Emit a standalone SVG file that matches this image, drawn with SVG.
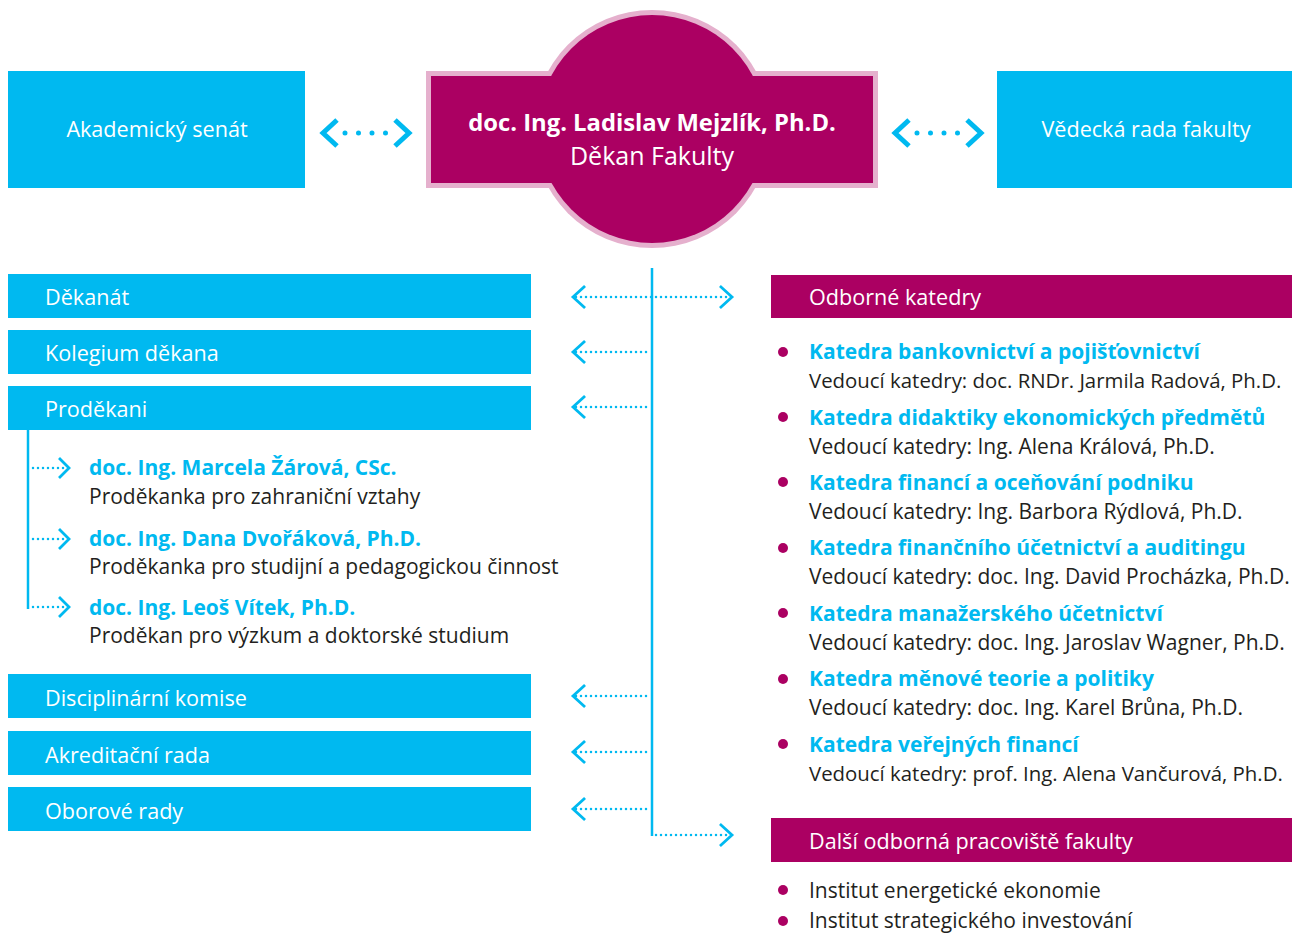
<svg xmlns="http://www.w3.org/2000/svg" width="1292" height="933" viewBox="0 0 1292 933">
<style>
.blue{fill:#00b9f0}
.mag{fill:#ab0062}
.t{font-family:"Open Sans","Noto Sans",sans-serif;font-size:21px}
.lb{font-size:21.6px}
.sm{font-size:20.4px}
.w{fill:#ffffff}
.b{font-weight:bold}
.bl{fill:#00b9f0}
.dk{fill:#231f20}
.dots{stroke:#00b9f0;stroke-width:2.5;stroke-linecap:round;stroke-dasharray:0 5;fill:none}
.bigdots{stroke:#00b9f0;stroke-width:5;stroke-linecap:round;stroke-dasharray:0 13.5;fill:none}
.chev{stroke:#00b9f0;stroke-width:2.8;fill:none;stroke-linecap:square}
.bigchev{stroke:#00b9f0;stroke-width:5;fill:none}
.line{stroke:#00b9f0;stroke-width:2.5;fill:none}
</style>
<rect width="1292" height="933" fill="#ffffff"/>

<g id="akademicky-senat">
<rect class="blue" x="8" y="71" width="297" height="117"/>
<text class="t lb w" x="157" y="137" text-anchor="middle">Akademický senát</text>
</g>
<g id="vedecka-rada">
<rect class="blue" x="997" y="71" width="295" height="117"/>
<text class="t lb w" x="1146" y="137" text-anchor="middle">Vědecká rada fakulty</text>
</g>
<g id="dekan">
<circle cx="652" cy="129" r="119" fill="#e5b0cd"/>
<rect x="426" y="71" width="452" height="117" fill="#e5b0cd"/>
<circle cx="652" cy="129" r="114" class="mag"/>
<rect class="mag" x="431" y="76" width="442" height="107"/>
<text class="t w b" x="652" y="131" text-anchor="middle" style="font-size:23.8px">doc. Ing. Ladislav Mejzlík, Ph.D.</text>
<text class="t w" x="652" y="165" text-anchor="middle" style="font-size:25px">Děkan Fakulty</text>
</g>

<g id="dekanat"><rect class="blue" x="8" y="274" width="523" height="44"/><text class="t lb w" x="45" y="305">Děkanát</text></g>
<g id="kolegium"><rect class="blue" x="8" y="330" width="523" height="44"/><text class="t lb w" x="45" y="361">Kolegium děkana</text></g>
<g id="prodekani"><rect class="blue" x="8" y="386" width="523" height="44"/><text class="t lb w" x="45" y="417">Proděkani</text></g>
<g id="zarova"><text class="t b bl" x="89" y="475">doc. Ing. Marcela Žárová, CSc.</text><text class="t dk" x="89" y="504">Proděkanka pro zahraniční vztahy</text></g>
<g id="dvorakova"><text class="t b bl" x="89" y="546">doc. Ing. Dana Dvořáková, Ph.D.</text><text class="t dk" x="89" y="574">Proděkanka pro studijní a pedagogickou činnost</text></g>
<g id="vitek"><text class="t b bl" x="89" y="615">doc. Ing. Leoš Vítek, Ph.D.</text><text class="t dk" x="89" y="643">Proděkan pro výzkum a doktorské studium</text></g>
<g id="disciplinarni"><rect class="blue" x="8" y="674" width="523" height="44"/><text class="t lb w" x="45" y="706">Disciplinární komise</text></g>
<g id="akreditacni"><rect class="blue" x="8" y="731" width="523" height="44"/><text class="t lb w" x="45" y="763">Akreditační rada</text></g>
<g id="oborove"><rect class="blue" x="8" y="787" width="523" height="44"/><text class="t lb w" x="45" y="819">Oborové rady</text></g>

<g id="odborne-katedry">
<rect class="mag" x="771" y="275" width="521" height="43"/>
<text class="t lb w" x="809" y="305">Odborné katedry</text>
<g class="mag">
<circle cx="783" cy="352" r="5"/><circle cx="783" cy="417" r="5"/><circle cx="783" cy="482" r="5"/><circle cx="783" cy="548" r="5"/><circle cx="783" cy="613" r="5"/><circle cx="783" cy="679" r="5"/><circle cx="783" cy="744" r="5"/>
</g>
<text class="t b bl" x="809" y="359">Katedra bankovnictví a pojišťovnictví</text>
<text class="t sm dk" x="809" y="388">Vedoucí katedry: doc. RNDr. Jarmila Radová, Ph.D.</text>
<text class="t b bl" x="809" y="425">Katedra didaktiky ekonomických předmětů</text>
<text class="t dk" x="809" y="454">Vedoucí katedry: Ing. Alena Králová, Ph.D.</text>
<text class="t b bl" x="809" y="490">Katedra financí a oceňování podniku</text>
<text class="t dk" x="809" y="519">Vedoucí katedry: Ing. Barbora Rýdlová, Ph.D.</text>
<text class="t b bl" x="809" y="555">Katedra finančního účetnictví a auditingu</text>
<text class="t dk" x="809" y="584">Vedoucí katedry: doc. Ing. David Procházka, Ph.D.</text>
<text class="t b bl" x="809" y="621">Katedra manažerského účetnictví</text>
<text class="t dk" x="809" y="650">Vedoucí katedry: doc. Ing. Jaroslav Wagner, Ph.D.</text>
<text class="t b bl" x="809" y="686">Katedra měnové teorie a politiky</text>
<text class="t dk" x="809" y="715">Vedoucí katedry: doc. Ing. Karel Brůna, Ph.D.</text>
<text class="t b bl" x="809" y="752">Katedra veřejných financí</text>
<text class="t sm dk" x="809" y="781">Vedoucí katedry: prof. Ing. Alena Vančurová, Ph.D.</text>
</g>

<g id="dalsi-pracoviste">
<rect class="mag" x="771" y="818" width="521" height="44"/>
<text class="t lb w" x="809" y="849">Další odborná pracoviště fakulty</text>
<circle class="mag" cx="783" cy="890" r="5"/>
<circle class="mag" cx="783" cy="921" r="5"/>
<text class="t dk" x="809" y="898">Institut energetické ekonomie</text>
<text class="t dk" x="809" y="928">Institut strategického investování</text>
</g>

<g id="connectors">
<line class="bigdots" x1="345" y1="133" x2="390" y2="133"/>
<polyline class="bigchev" points="337,120 323,133 337,146"/>
<polyline class="bigchev" points="395,120 409,133 395,146"/>
<line class="bigdots" x1="917" y1="133" x2="962" y2="133"/>
<polyline class="bigchev" points="909,120 895,133 909,146"/>
<polyline class="bigchev" points="967,120 981,133 967,146"/>

<line class="line" x1="652" y1="268" x2="652" y2="836"/>
<line class="dots" x1="576" y1="297" x2="728" y2="297"/>
<polyline class="chev" points="584,287 573,297 584,307"/>
<polyline class="chev" points="721,287 732,297 721,307"/>
<line class="dots" x1="576" y1="352" x2="650" y2="352"/>
<polyline class="chev" points="584,342 573,352 584,362"/>
<line class="dots" x1="576" y1="407" x2="650" y2="407"/>
<polyline class="chev" points="584,397 573,407 584,417"/>
<line class="dots" x1="576" y1="696" x2="650" y2="696"/>
<polyline class="chev" points="584,686 573,696 584,706"/>
<line class="dots" x1="576" y1="752" x2="650" y2="752"/>
<polyline class="chev" points="584,742 573,752 584,762"/>
<line class="dots" x1="576" y1="809" x2="650" y2="809"/>
<polyline class="chev" points="584,799 573,809 584,819"/>
<line class="dots" x1="656" y1="835" x2="728" y2="835"/>
<polyline class="chev" points="721,825 732,835 721,845"/>

<line class="line" x1="28" y1="430" x2="28" y2="609"/>
<line class="dots" x1="33" y1="468" x2="66" y2="468"/>
<polyline class="chev" points="60,459 69,468 60,477"/>
<line class="dots" x1="33" y1="539" x2="66" y2="539"/>
<polyline class="chev" points="60,530 69,539 60,548"/>
<line class="dots" x1="33" y1="607" x2="66" y2="607"/>
<polyline class="chev" points="60,598 69,607 60,616"/>
</g>
</svg>
